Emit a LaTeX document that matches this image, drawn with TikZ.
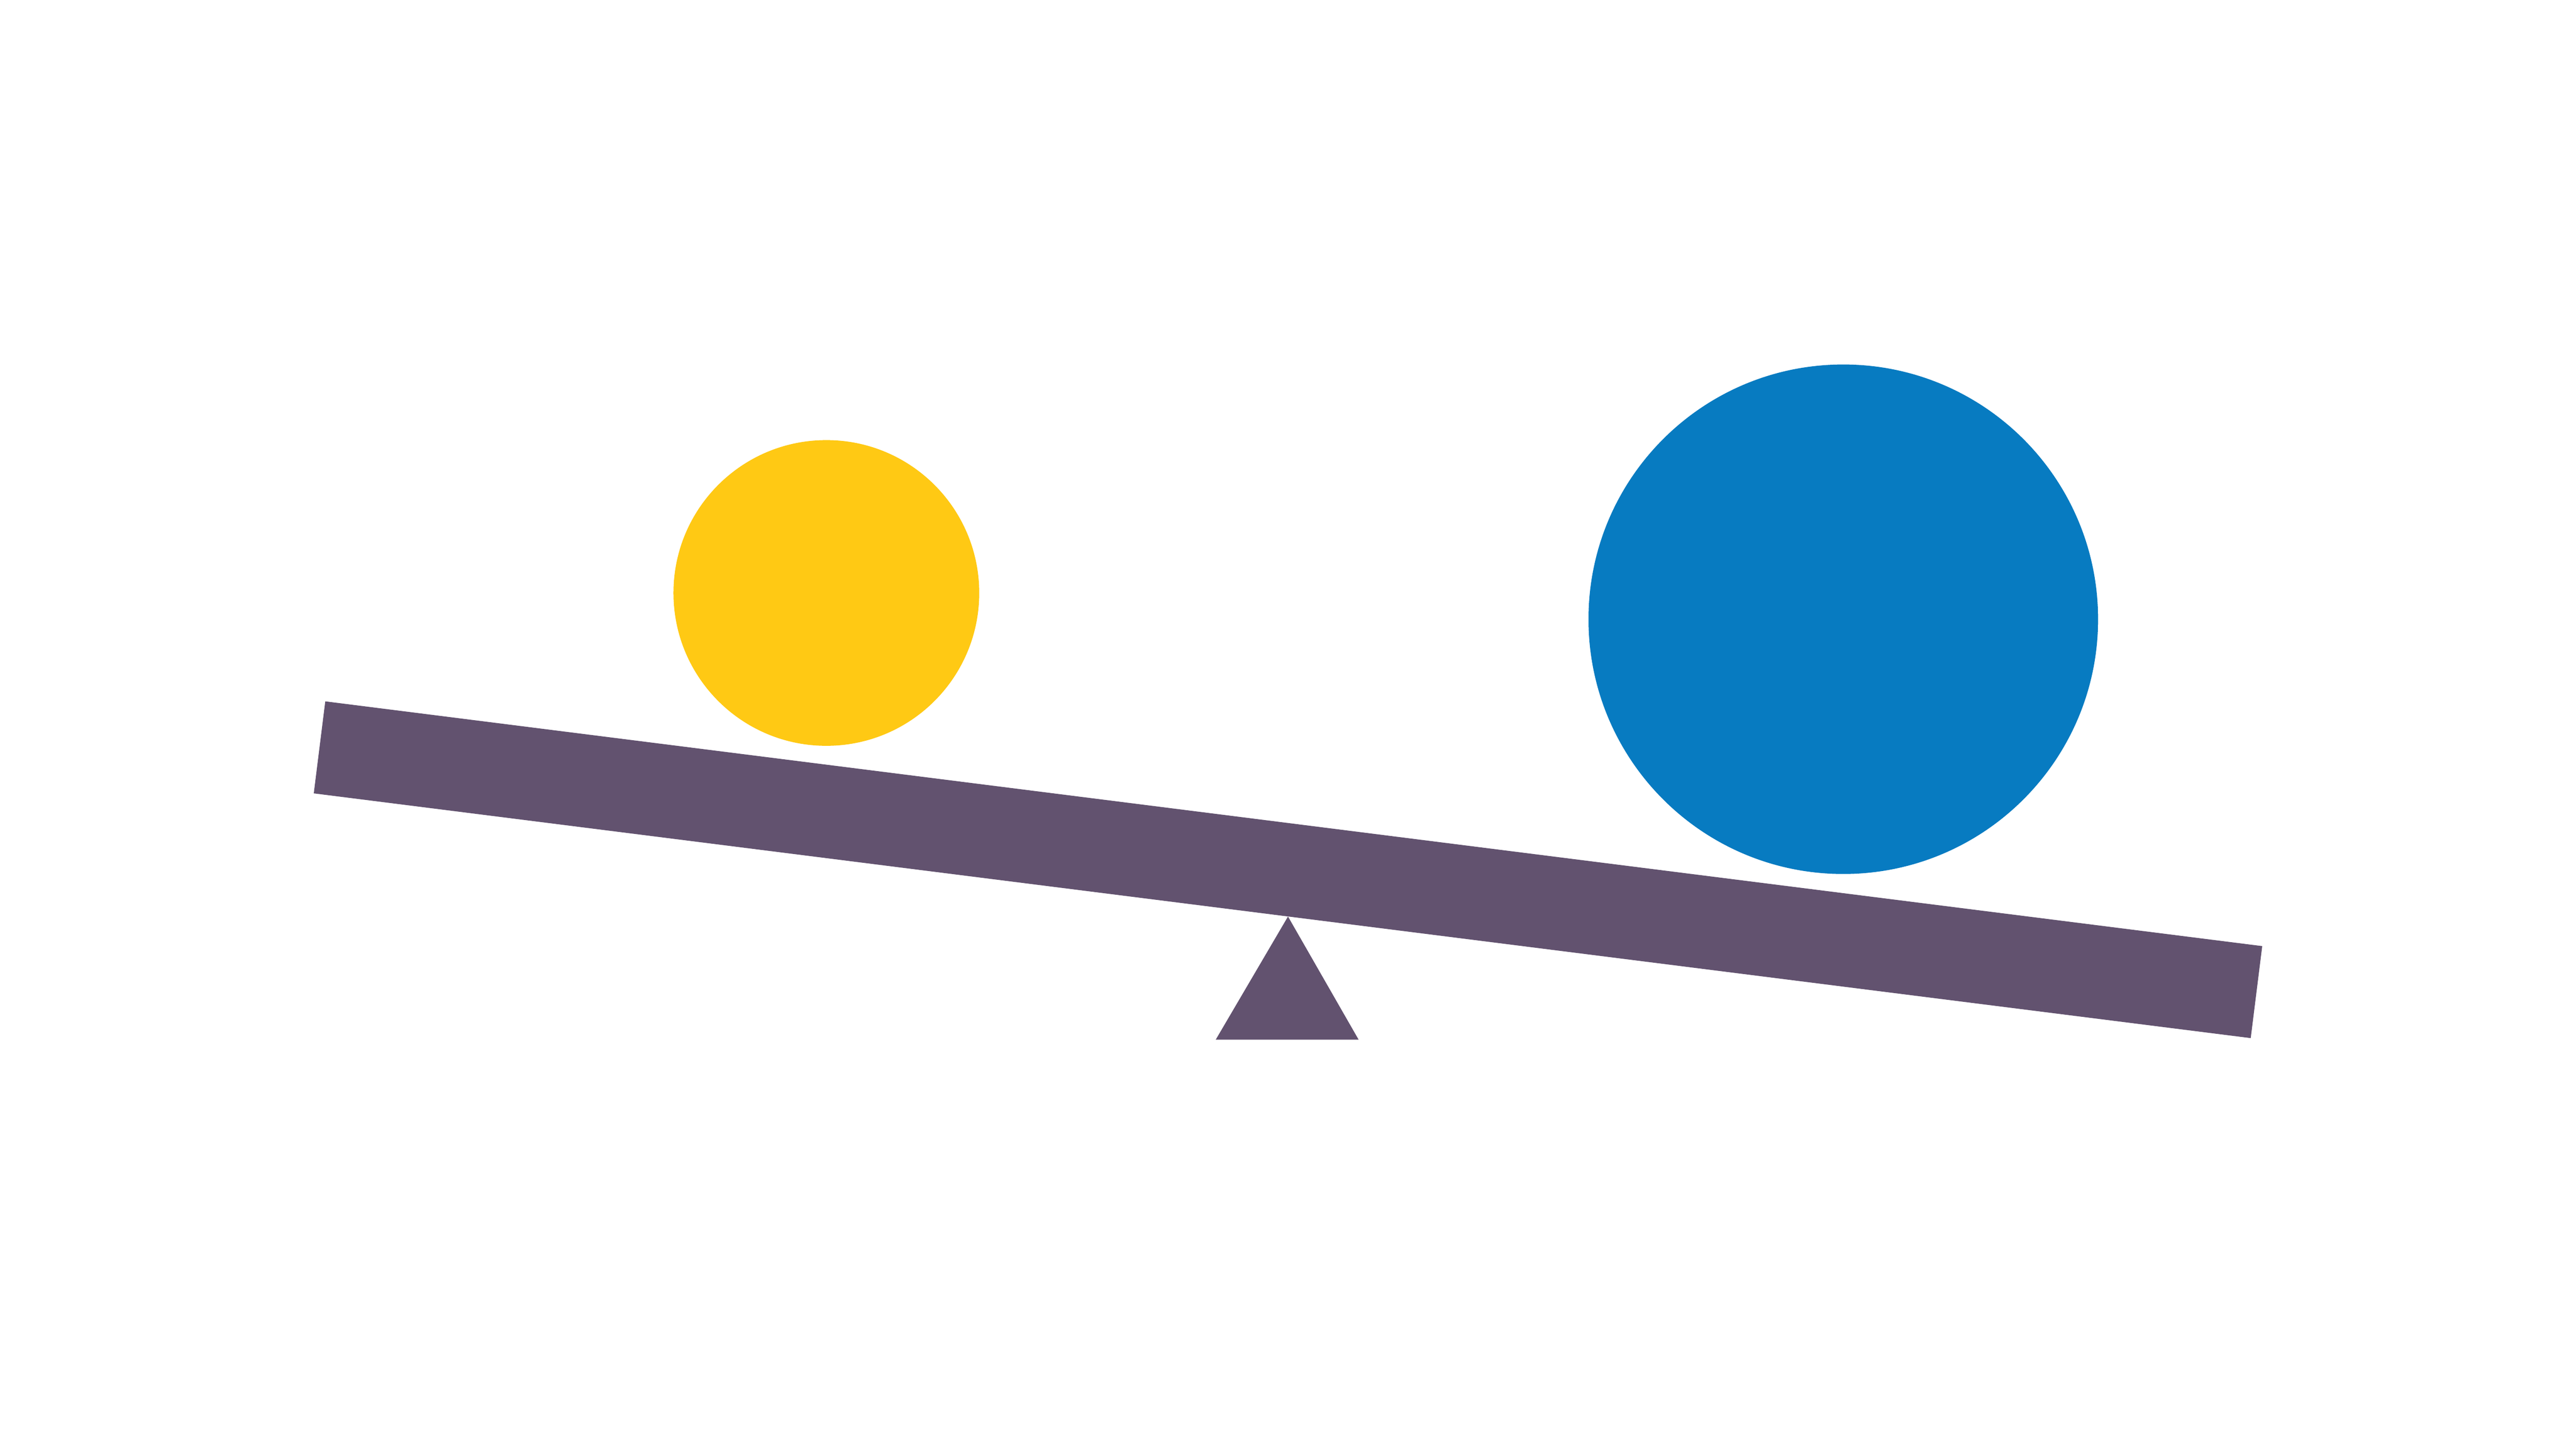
\documentclass[tikz,border=0pt]{standalone}
\definecolor{beamc}{HTML}{62526F}
\definecolor{yel}{HTML}{FFC914}
\definecolor{blu}{HTML}{077BC1}
\begin{document}
\begin{tikzpicture}[x=0.01cm,y=-0.01cm]
\useasboundingbox[fill=white] (0,0) rectangle (1568,882);
\fill[beamc] (198,427) -- (1377,576) -- (1370,632) -- (191,483) -- cycle;
\fill[beamc] (784,558) -- (827,633) -- (740,633) -- cycle;
\fill[yel] (503,361) circle[radius=0.93cm];
\fill[blu] (1122,377) circle[radius=1.55cm];
\end{tikzpicture}
\end{document}
